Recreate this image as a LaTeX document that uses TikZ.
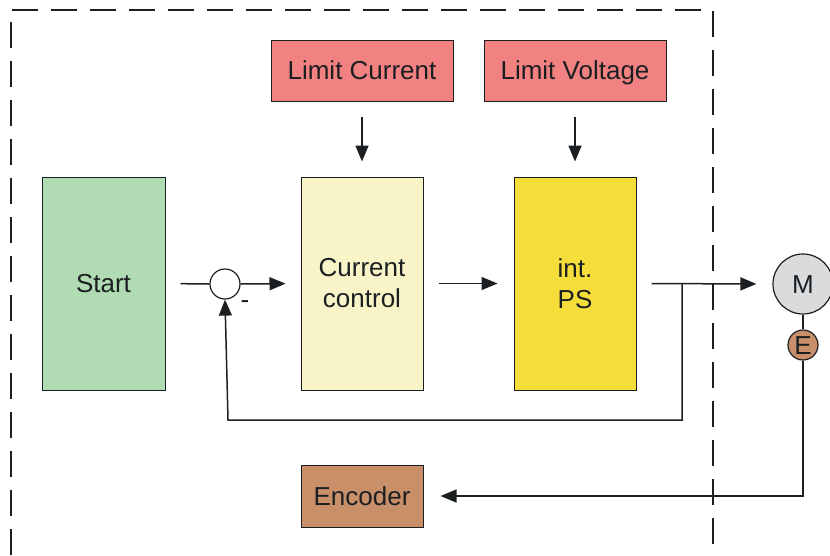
\documentclass[tikz,border=0pt]{standalone}
\usepackage{fontspec}
\setmainfont{Liberation Sans}
\usetikzlibrary{arrows.meta}
\definecolor{cgreen}{HTML}{B0DBB3}
\definecolor{cpink}{HTML}{F28282}
\definecolor{clight}{HTML}{F8F4C8}
\definecolor{cyellow}{HTML}{F6DE3A}
\definecolor{cbrown}{HTML}{C98F68}
\definecolor{cgray}{HTML}{D9DBDC}
\definecolor{cline}{HTML}{1C1F22}
\tikzset{
  blk/.style={draw=cline, line width=1pt, inner sep=0pt, align=center,
    font=\fontsize{26}{31}\selectfont, text=cline},
  oneline/.style={text height=18.7pt, text depth=0pt},
  conn/.style={draw=cline, line width=1.5pt},
  arr/.style={conn, -{Triangle[length=16pt,width=13pt]}},
  circ/.style={circle, draw=cline, line width=1.2pt, inner sep=0pt,
    font=\fontsize{26}{31}\selectfont, text=cline},
  frame/.style={draw=cline, line width=2pt, dash pattern=on 26pt off 13pt}
}
\begin{document}
\begin{tikzpicture}[x=1pt,y=-1pt]
\useasboundingbox (0,0) rectangle (830,555);
% frame
\draw[frame] (11,555) -- (11,10) -- (713,10) -- (713,555);
% blocks
\node[blk, oneline, fill=cgreen, minimum width=123pt, minimum height=213pt] (start) at (103.5,283.5) {Start};
\node[blk, oneline, fill=cpink, minimum width=182pt, minimum height=61pt] (lc) at (362,70.5) {Limit Current};
\node[blk, oneline, fill=cpink, minimum width=182pt, minimum height=61pt] (lv) at (575,70.5) {Limit Voltage};
\node[blk, fill=clight, minimum width=122pt, minimum height=213pt] (cc) at (362,283.5) {Current\\control};
\node[blk, fill=cyellow, minimum width=122pt, minimum height=213pt] (ps) at (575,283.5) {int.\\PS};
\node[blk, oneline, fill=cbrown, minimum width=122pt, minimum height=62pt] (enc) at (362,496) {Encoder};
\node[circ, fill=white, minimum size=30pt] (sum) at (225,284) {};
\node[circ, oneline, fill=cgray, minimum size=60pt] (M) at (803,284) {M};
\node[circ, oneline, fill=cbrown, minimum size=30pt] (E) at (803,345) {E};
\node[font=\fontsize{26}{31}\selectfont, text=cline] (minus) at (245,305) {-};
\coordinate (br) at (682,284);
\coordinate (fb) at (228,420);
% connectors
\draw[conn, shorten <=15pt] (start.east) -- (sum.west);
\draw[arr, shorten >=15pt] (sum.east) -- (cc.west);
\draw[arr, shorten <=15pt, shorten >=16pt] (cc.east) -- (ps.west);
\draw[arr, shorten <=15pt, shorten >=16pt] (ps.east) -- (M.west);
\draw[arr, shorten <=15pt, shorten >=15pt] (lc.south) -- (cc.north);
\draw[arr, shorten <=15pt, shorten >=15pt] (lv.south) -- (lv.south |- cc.north);
\draw[arr] (br) |- (fb) -- (sum.south);
\draw[conn] (M.south) -- (E.north);
\draw[arr, shorten >=17pt] (E.south) |- (enc.east);
\end{tikzpicture}
\end{document}
